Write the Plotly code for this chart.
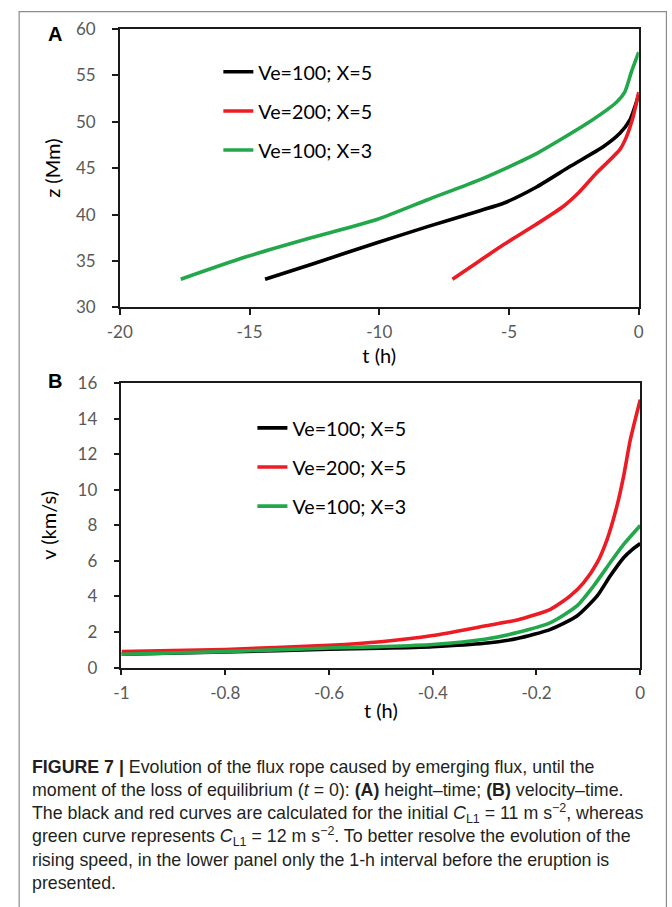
import plotly.graph_objects as go

# ---------------- data ----------------
series_names = ["Ve=100; X=5", "Ve=200; X=5", "Ve=100; X=3"]
series_colors = ["#000000", "#ED1C24", "#22A84A"]

# Panel A : height-time
tA_black = [-14.4, -12.6, -10.06, -8.14, -6.09, -5.19, -3.92, -2.64, -1.37, -0.73, -0.34, -0.15, 0.0]
zA_black = [33.04, 34.66, 36.99, 38.7, 40.45, 41.25, 43.0, 45.2, 47.3, 48.75, 50.2, 51.6, 52.9]

tA_red = [-7.18, -6.14, -5.19, -3.98, -2.9, -2.3, -1.62, -0.73, -0.47, -0.22, 0.0]
zA_red = [33.04, 35.0, 36.8, 38.9, 40.9, 42.4, 44.5, 47.0, 48.4, 50.5, 53.2]

tA_green = [-17.65, -15.19, -12.63, -10.06, -8.14, -6.09, -5.0, -3.92, -2.0, -0.86, -0.54, -0.28, 0.0]
zA_green = [33.04, 35.4, 37.5, 39.5, 41.6, 43.8, 45.15, 46.6, 49.8, 52.1, 53.2, 55.4, 57.5]

# Panel B : velocity-time
tB_black = [-1.0, -0.8, -0.6, -0.5, -0.4, -0.3, -0.237, -0.173, -0.122, -0.083, -0.058, -0.032, -0.015, 0.0]
vB_black = [0.75, 0.88, 1.03, 1.09, 1.18, 1.37, 1.63, 2.15, 2.9, 4.03, 5.15, 6.18, 6.65, 6.98]

tB_red = [-1.0, -0.8, -0.6, -0.5, -0.4, -0.3, -0.237, -0.173, -0.135, -0.109, -0.083, -0.064, -0.045, -0.032, -0.019, 0.0]
vB_red = [0.9, 1.02, 1.25, 1.45, 1.8, 2.34, 2.68, 3.28, 4.03, 4.78, 5.9, 7.2, 9.08, 10.77, 12.83, 15.07]

tB_green = [-1.0, -0.8, -0.6, -0.5, -0.4, -0.3, -0.237, -0.173, -0.122, -0.09, -0.058, -0.032, -0.015, 0.0]
vB_green = [0.75, 0.9, 1.1, 1.18, 1.3, 1.59, 1.97, 2.53, 3.47, 4.59, 5.9, 6.93, 7.5, 7.99]

# tick labels
xA_ticks = [-20, -15, -10, -5, 0]
xA_ticktext = ["-20", "-15", "-10", "-5", "0"]
yA_ticks = [30, 35, 40, 45, 50, 55, 60]
xB_ticks = [-1, -0.8, -0.6, -0.4, -0.2, 0]
xB_ticktext = ["-1", "-0.8", "-0.6", "-0.4", "-0.2", "0"]
yB_ticks = [0, 2, 4, 6, 8, 10, 12, 14, 16]

caption = (
    "<b>FIGURE 7 |</b> Evolution of the flux rope caused by emerging flux, until the<br>"
    "moment of the loss of equilibrium (<i>t</i> = 0): <b>(A)</b> height–time; <b>(B)</b> velocity–time.<br>"
    "The black and red curves are calculated for the initial <i>C</i><sub>L1</sub> = 11 m s<sup>−2</sup>, whereas<br>"
    "green curve represents <i>C</i><sub>L1</sub> = 12 m s<sup>−2</sup>. To better resolve the evolution of the<br>"
    "rising speed, in the lower panel only the 1-h interval before the eruption is<br>"
    "presented."
)

# ---------------- geometry ----------------
W, H = 672, 907
# The photographed page shows the figure inside the default 8 px body margin, scaled by ~0.977.
# Positions below are given as wanted picture pixels and converted to figure pixels.
S, OFF = 0.977, 8.0


def fpx(p):
    return p / S - OFF


def px(p):
    return fpx(p) / W


def py(p):
    return 1 - fpx(p) / H


fig = go.Figure()

A_data = [(tA_black, zA_black), (tA_red, zA_red), (tA_green, zA_green)]
B_data = [(tB_black, vB_black), (tB_red, vB_red), (tB_green, vB_green)]

for i, (t, z) in enumerate(A_data):
    fig.add_trace(go.Scatter(x=t, y=z, mode="lines", name=series_names[i],
                             line=dict(color=series_colors[i], width=3.6, shape="spline", smoothing=0.6),
                             xaxis="x", yaxis="y", legend="legend", legendgroup="a%d" % i))
for i, (t, v) in enumerate(B_data):
    fig.add_trace(go.Scatter(x=t, y=v, mode="lines", name=series_names[i],
                             line=dict(color=series_colors[i], width=3.6, shape="spline", smoothing=0.6),
                             xaxis="x2", yaxis="y2", legend="legend2", legendgroup="b%d" % i))

tickfont = dict(family="Lato", size=17, color="#595959")
titlefont = dict(family="Lato", size=20, color="#000000")
axis_common = dict(showgrid=False, zeroline=False, showline=True, linecolor="#1a1a1a", linewidth=1.5,
                   mirror=True, ticks="outside", ticklen=6, tickcolor="#1a1a1a", tickwidth=1.5,
                   tickfont=tickfont, title_font=titlefont)
legend_font = dict(family="Lato", size=19.7, color="#000000")

fig.update_layout(
    width=W, height=H, margin=dict(l=0, r=0, t=0, b=0),
    paper_bgcolor="white", plot_bgcolor="white",
    xaxis=dict(domain=[px(115), px(636)], range=[-20, 0], tickvals=xA_ticks, ticktext=xA_ticktext,
               anchor="y", title=dict(text="t (h)", standoff=8), ticklabelstandoff=2, **axis_common),
    yaxis=dict(domain=[py(304.3), py(25.7)], range=[30, 60], tickvals=yA_ticks,
               anchor="x", title=dict(text="z (Mm)", standoff=10), ticklabelstandoff=13, **axis_common),
    xaxis2=dict(domain=[px(116.7), px(637.5)], range=[-1, 0], tickvals=xB_ticks, ticktext=xB_ticktext,
                anchor="y2", title=dict(text="t (h)", standoff=2), ticklabelstandoff=3, **axis_common),
    yaxis2=dict(domain=[py(664.5), py(380)], range=[0, 16], tickvals=yB_ticks,
                anchor="x2", title=dict(text="v (km/s)", standoff=16), ticklabelstandoff=13, **axis_common),
    legend=dict(x=211 / W, y=1 - 42.5 / H, xanchor="left", yanchor="top", bgcolor="rgba(0,0,0,0)",
                font=legend_font, tracegroupgap=10.5, itemwidth=30),
    legend2=dict(x=246 / W, y=1 - 407 / H, xanchor="left", yanchor="top", bgcolor="rgba(0,0,0,0)",
                 font=legend_font, tracegroupgap=10.5, itemwidth=30),
    showlegend=True,
)

fig.add_annotation(text="<b>A</b>", x=px(50), y=py(31), xref="paper", yref="paper",
                   xanchor="center", yanchor="middle",
                   showarrow=False, font=dict(family="Liberation Sans", size=20, color="#000"))
fig.add_annotation(text="<b>B</b>", x=px(50), y=py(378), xref="paper", yref="paper",
                   xanchor="center", yanchor="middle",
                   showarrow=False, font=dict(family="Liberation Sans", size=20, color="#000"))
fig.add_annotation(text=caption, x=17 / W, y=1 - 761.5 / H, xref="paper", yref="paper",
                   xanchor="left", yanchor="top", align="left", showarrow=False,
                   font=dict(family="Liberation Sans", size=17.8, color="#231f20"))

fig.add_shape(type="rect", xref="paper", yref="paper", x0=px(14), x1=671.4 / W, y0=-0.02, y1=1 - 0.6 / H,
              line=dict(color="#8c8c8c", width=1.2), fillcolor="rgba(0,0,0,0)", layer="below")

fig.write_html("out.html")
